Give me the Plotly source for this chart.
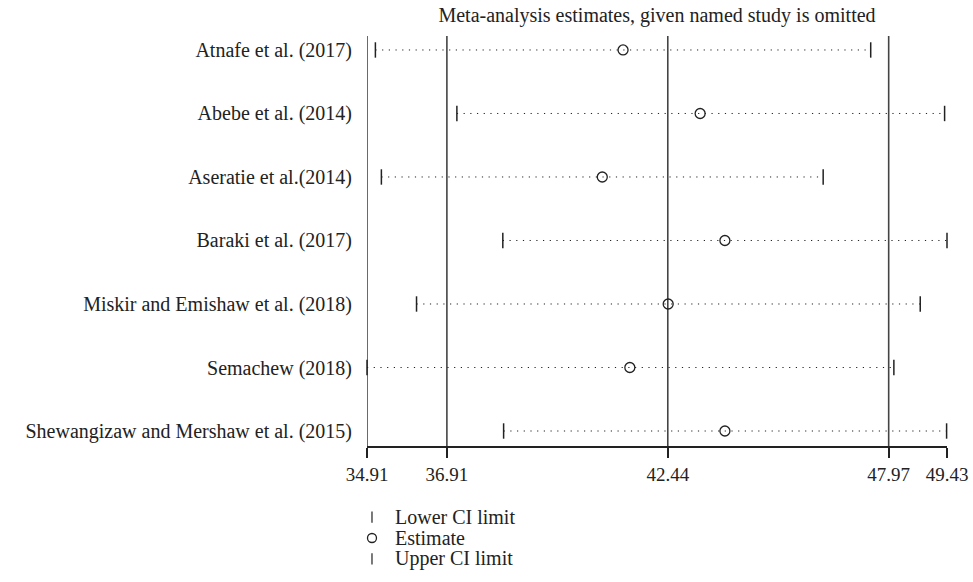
import plotly.graph_objects as go

studies = [
    "Atnafe et al. (2017)",
    "Abebe et al. (2014)",
    "Aseratie et al.(2014)",
    "Baraki et al. (2017)",
    "Miskir and Emishaw et al. (2018)",
    "Semachew (2018)",
    "Shewangizaw and Mershaw et al. (2015)",
]
lower = [35.12, 37.16, 35.27, 38.31, 36.15, 34.91, 38.33]
estimate = [41.32, 43.25, 40.80, 43.87, 42.45, 41.49, 43.87]
upper = [47.52, 49.37, 46.33, 49.43, 48.76, 48.10, 49.42]

tick_vals = [34.91, 36.91, 42.44, 47.97, 49.43]
ref_lines = [34.91, 36.91, 42.44, 47.97]

legend_labels = ["Lower CI limit", "Estimate", "Upper CI limit"]
legend_symbols = ["line-ns-open", "circle-open", "line-ns-open"]

n = len(studies)
ypos = [n - 1 - i for i in range(n)]

FONT = "Liberation Serif"
INK = "#222"

fig = go.Figure()

# dotted CI lines
xs, ys = [], []
for lo, hi, y in zip(lower, upper, ypos):
    xs += [lo, hi, None]
    ys += [y, y, None]
fig.add_trace(go.Scatter(x=xs, y=ys, mode="lines",
                         line=dict(color=INK, width=1, dash="1.2px,5.5px"),
                         showlegend=False, hoverinfo="skip", cliponaxis=False))

fig.add_trace(go.Scatter(x=lower, y=ypos, mode="markers", name=legend_labels[0],
                         marker=dict(symbol="line-ns-open", size=11, color=INK,
                                     line=dict(width=1.5, color=INK)),
                         showlegend=False, cliponaxis=False))
fig.add_trace(go.Scatter(x=estimate, y=ypos, mode="markers", name=legend_labels[1],
                         marker=dict(symbol="circle-open", size=10, color=INK,
                                     line=dict(width=1.3, color=INK)),
                         showlegend=False, cliponaxis=False))
fig.add_trace(go.Scatter(x=upper, y=ypos, mode="markers", name=legend_labels[2],
                         marker=dict(symbol="line-ns-open", size=11, color=INK,
                                     line=dict(width=1.5, color=INK)),
                         showlegend=False, cliponaxis=False))

for v in ref_lines:
    fig.add_shape(type="line", xref="x", yref="y domain", x0=v, x1=v, y0=0, y1=1,
                  line=dict(color="#444", width=1.6), layer="below")

# legend drawn in its own small axes below the plot
leg_y = [0.595, 0.403, 0.211]
leg_sym_x = 0.172
leg_txt_x = 0.897
for lab, sym, yy in zip(legend_labels, legend_symbols, leg_y):
    is_circle = sym.startswith("circle")
    fig.add_trace(go.Scatter(x=[leg_sym_x], y=[yy], xaxis="x2", yaxis="y2",
                             mode="markers", showlegend=False, hoverinfo="skip",
                             marker=dict(symbol=sym, size=9 if is_circle else 8,
                                         color=INK,
                                         line=dict(width=1.3 if is_circle else 1.2,
                                                   color=INK)),
                             cliponaxis=False))
    fig.add_annotation(x=leg_txt_x, y=yy, xref="x2", yref="y2", text=lab,
                       showarrow=False, xanchor="left", yanchor="middle",
                       font=dict(family=FONT, size=20, color=INK))

fig.update_layout(
    width=973, height=582,
    margin=dict(l=367, r=26, t=36, b=0),
    paper_bgcolor="white", plot_bgcolor="white",
    showlegend=False,
    font=dict(family=FONT, size=19, color=INK),
    title=dict(text="Meta-analysis estimates, given named study is omitted",
               x=0.5, xref="paper", xanchor="center", y=0.974, yanchor="middle",
               font=dict(family=FONT, size=20, color=INK)),
    xaxis=dict(range=[tick_vals[0], tick_vals[-1]], tickvals=tick_vals,
               ticktext=[f"{v:.2f}" for v in tick_vals],
               showgrid=False, zeroline=False, showline=True, linecolor=INK,
               linewidth=1.5, ticks="outside", ticklen=10, tickwidth=1.5,
               tickcolor=INK, automargin=False,
               tickfont=dict(family=FONT, size=19, color=INK)),
    yaxis=dict(domain=[0.2491, 1], range=[-0.236, n - 1 + 0.22],
               tickvals=ypos, ticktext=studies,
               showgrid=False, zeroline=False, showline=False, ticks="",
               ticklabelstandoff=14, automargin=False,
               tickfont=dict(family=FONT, size=20, color=INK)),
    xaxis2=dict(domain=[0, 0.05], range=[0, 1], visible=False, anchor="y2",
                fixedrange=True),
    yaxis2=dict(domain=[0, 0.2], range=[0, 1], visible=False, anchor="x2",
                fixedrange=True),
)

fig.write_html("out.html",
               config={"displayModeBar": False},
               post_script="document.body.style.margin='0';"
                           "document.body.style.overflow='hidden';")
